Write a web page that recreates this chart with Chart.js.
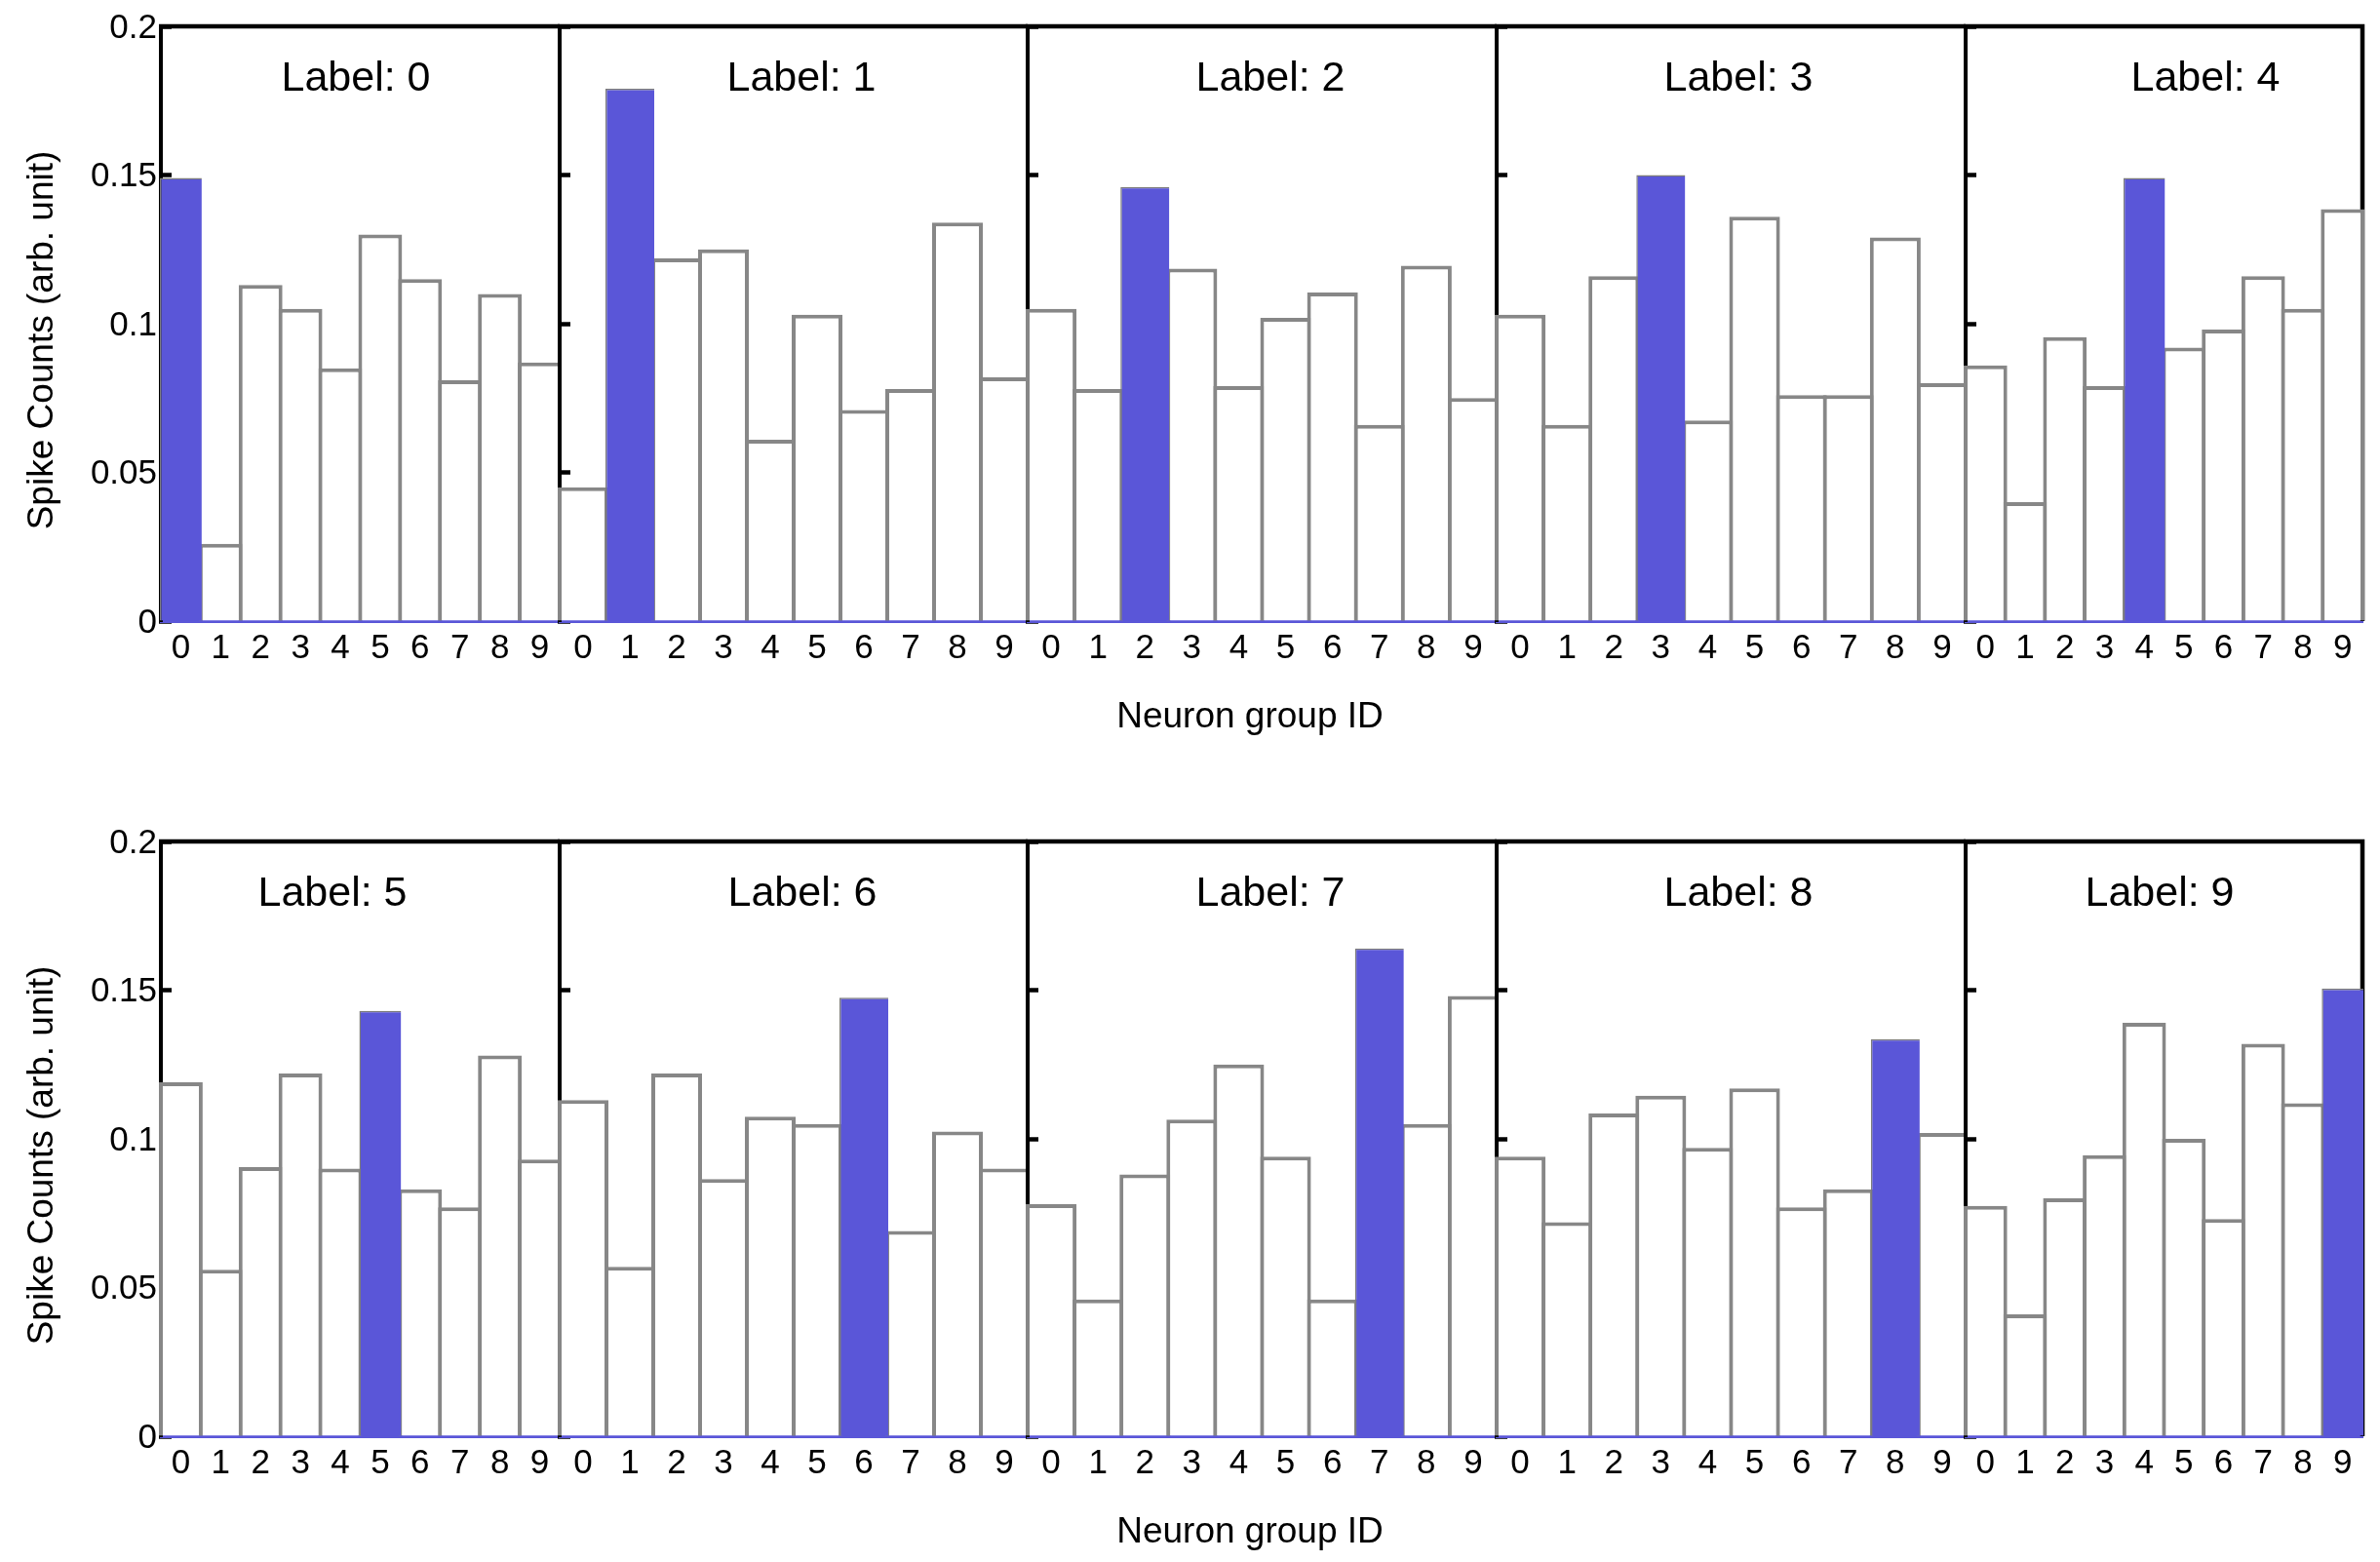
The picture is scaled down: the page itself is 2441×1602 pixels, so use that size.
<!DOCTYPE html>
<html>
<head>
<meta charset="utf-8">
<script src="https://cdn.jsdelivr.net/npm/chart.js@4.4.1/dist/chart.umd.min.js"></script>
<style>
html,body{margin:0;padding:0;background:#fff;}
#fig{position:relative;width:2441px;height:1602px;background:#fff;overflow:hidden;}
#fig canvas{position:absolute;}
</style>
</head>
<body>
<div id="fig"></div>
<script>
// ---------------- data ----------------
const groupIds = ['0','1','2','3','4','5','6','7','8','9'];
const yTickValues = [0, 0.05, 0.1, 0.15, 0.2];
const yTickLabels = ['0', '0.05', '0.1', '0.15', '0.2'];
const panelTitles = ['Label: 0','Label: 1','Label: 2','Label: 3','Label: 4',
                     'Label: 5','Label: 6','Label: 7','Label: 8','Label: 9'];
const yTitle = 'Spike Counts (arb. unit)';
const xTitle = 'Neuron group ID';

const label0 = [0.149, 0.026, 0.113, 0.105, 0.085, 0.130, 0.115, 0.081, 0.110, 0.087];
const label1 = [0.045, 0.179, 0.122, 0.125, 0.061, 0.103, 0.071, 0.078, 0.134, 0.082];
const label2 = [0.105, 0.078, 0.146, 0.1185, 0.079, 0.102, 0.1105, 0.066, 0.1195, 0.075];
const label3 = [0.103, 0.066, 0.116, 0.150, 0.0675, 0.136, 0.076, 0.076, 0.129, 0.080];
const label4 = [0.086, 0.040, 0.0955, 0.079, 0.149, 0.092, 0.098, 0.116, 0.105, 0.1385];
const label5 = [0.119, 0.056, 0.0905, 0.122, 0.090, 0.143, 0.083, 0.077, 0.128, 0.093];
const label6 = [0.113, 0.057, 0.122, 0.0865, 0.1075, 0.105, 0.1475, 0.069, 0.1025, 0.090];
const label7 = [0.078, 0.046, 0.088, 0.1065, 0.125, 0.094, 0.046, 0.164, 0.105, 0.148];
const label8 = [0.094, 0.072, 0.1085, 0.1145, 0.097, 0.117, 0.077, 0.083, 0.1335, 0.102];
const label9 = [0.0775, 0.041, 0.080, 0.0945, 0.139, 0.100, 0.073, 0.132, 0.112, 0.1505];
const seriesByLabel = [label0, label1, label2, label3, label4, label5, label6, label7, label8, label9];

// ---------------- layout & style ----------------
const colLefts = [165, 574, 1054, 1535, 2016];
const colRight = 2423;
const rowTops = [27, 863];
const plotH = 610;
const titleOffsets = [200, 248, 249, 248, 246, 176, 249, 249, 248, 199];
const xTitleCenter = 1282;
const yTitleCenterX = 44;
const FONT = "'Liberation Sans', Arial, Helvetica, sans-serif";
const BLUE = '#5a56d8';
const GREY = '#878787';
const EDGE = 4;

const deco = {
  id: 'deco',
  beforeDatasetsDraw(chart, args, o) {
    const {ctx, chartArea: a} = chart;
    ctx.save();
    ctx.strokeStyle = '#000';
    ctx.lineWidth = 4.5;
    ctx.beginPath();
    ctx.moveTo(a.left - 2, a.top);
    ctx.lineTo(a.right + (o.last ? 2.25 : 0), a.top);
    if (o.last) {
      ctx.moveTo(a.right, a.top);
      ctx.lineTo(a.right, a.bottom);
    }
    ctx.stroke();
    ctx.restore();
  },
  afterDraw(chart, args, o) {
    const {ctx, chartArea: a} = chart;
    ctx.save();
    ctx.fillStyle = '#000';
    ctx.font = '43px ' + FONT;
    ctx.textAlign = 'center';
    ctx.textBaseline = 'alphabetic';
    ctx.fillText(o.title, a.left + o.titleOffset, a.top + 66);
    if (o.xTitleX != null) {
      ctx.font = '37px ' + FONT;
      ctx.fillText(xTitle, o.xTitleX, a.bottom + 109);
    }
    if (o.yTitleX != null) {
      ctx.font = '37px ' + FONT;
      ctx.translate(o.yTitleX, a.top + 322);
      ctx.rotate(-Math.PI / 2);
      ctx.textBaseline = 'middle';
      ctx.fillText(yTitle, 0, 0);
    }
    ctx.restore();
  }
};

const fig = document.getElementById('fig');

for (let r = 0; r < 2; r++) {
  for (let c = 0; c < 5; c++) {
    const k = r * 5 + c;
    const left = colLefts[c];
    const right = c < 4 ? colLefts[c + 1] : colRight;
    const pw = right - left;
    const L = c === 0 ? left : 6;
    const R = c === 4 ? 18 : 4;
    const T = 40;
    const B = 140;
    const cLeft = left - L;
    const cTop = rowTops[r] - T;
    const cw = pw + L + R;
    const ch = T + plotH + B;

    const cv = document.createElement('canvas');
    cv.width = cw; cv.height = ch;
    cv.style.left = cLeft + 'px';
    cv.style.top = cTop + 'px';
    cv.style.width = cw + 'px';
    cv.style.height = ch + 'px';
    fig.appendChild(cv);

    const vals = seriesByLabel[k];
    const target = vals.map((v, i) => i === k % 10 ? v : null);
    const others = vals.map((v, i) => i === k % 10 ? null : v);
    const bw = pw / 10;

    new Chart(cv, {
      type: 'bar',
      data: {
        labels: groupIds,
        datasets: [
          {
            data: target,
            backgroundColor: BLUE,
            borderColor: '#7b7b7b',
            borderWidth: {top: 1.5, left: 1.5, right: 0, bottom: 0},
            borderSkipped: 'start',
            grouped: false,
            barPercentage: 1 + 2 / bw,
            categoryPercentage: 1,
            inflateAmount: 0,
            clip: false
          },
          {
            data: others,
            backgroundColor: '#ffffff',
            borderColor: GREY,
            borderWidth: EDGE,
            borderSkipped: 'start',
            grouped: false,
            barPercentage: 1 + EDGE / bw,
            categoryPercentage: 1,
            inflateAmount: 0,
            clip: false
          }
        ]
      },
      options: {
        responsive: false,
        animation: false,
        events: [],
        layout: {padding: {left: 0, top: T, right: R, bottom: 0}},
        plugins: {
          legend: {display: false},
          tooltip: {enabled: false},
          title: {display: false},
          deco: {
            title: panelTitles[k],
            titleOffset: titleOffsets[k],
            last: c === 4,
            xTitleX: c === 2 ? xTitleCenter - cLeft : null,
            yTitleX: c === 0 ? yTitleCenterX - cLeft : null
          }
        },
        scales: {
          x: {
            type: 'category',
            offset: true,
            grid: {display: true, drawOnChartArea: false, drawTicks: false},
            border: {display: true, color: BLUE, width: 3},
            ticks: {color: '#000', font: {family: FONT, size: 35}, padding: 7, maxRotation: 0, autoSkip: false},
            afterFit: s => { s.height = B; }
          },
          y: {
            type: 'linear',
            min: 0,
            max: 0.2,
            afterBuildTicks: s => { s.ticks = yTickValues.map(v => ({value: v})); },
            grid: {display: true, drawOnChartArea: false, drawTicks: true, tickLength: -11, tickWidth: 4.5, tickColor: '#000'},
            border: {display: true, color: '#000', width: 4},
            ticks: {
              display: c === 0,
              color: '#000',
              font: {family: FONT, size: 35},
              padding: 15,
              labelOffset: 2,
              callback: (v, i) => yTickLabels[i]
            },
            afterFit: s => { s.width = L; }
          }
        }
      },
      plugins: [deco]
    });
  }
}
</script>
</body>
</html>
